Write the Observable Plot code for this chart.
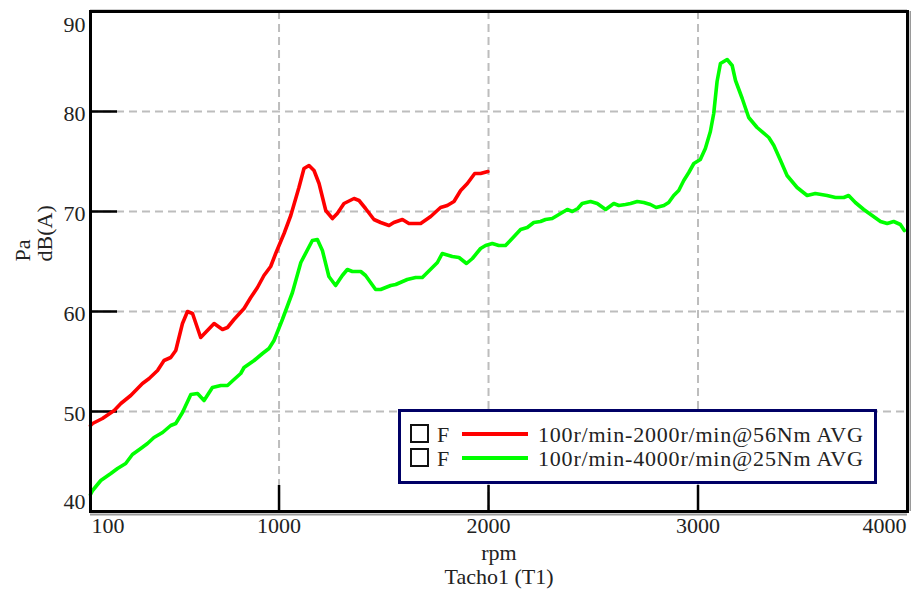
<!DOCTYPE html>
<html>
<head>
<meta charset="utf-8">
<script src="https://cdn.jsdelivr.net/npm/d3@7"></script>
<script src="https://cdn.jsdelivr.net/npm/@observablehq/plot@0.6"></script>
<style>
  body { margin: 0; background: #fff; }
  #wrap { position: relative; width: 911px; height: 591px; }
</style>
</head>
<body>
<div id="wrap"></div>
<script>
// ---- data ----
const rpmRed = [100,110,157,213,245,292,348,380,420,451,483,507,539,563,587,626,658,690,730,754,785,833,865,897,928,960,984,1024,1056,1095,1119,1143,1167,1191,1223,1255,1278,1310,1358,1382,1413,1453,1485,1525,1548,1589,1620,1676,1724,1771,1803,1835,1867,1899,1934,1962,1997];
const dbRed  = [48.6,48.8,49.3,50.1,50.8,51.6,52.8,53.3,54.1,55.1,55.4,56.1,58.8,60.0,59.8,57.4,58.1,58.8,58.2,58.4,59.2,60.3,61.4,62.4,63.6,64.5,65.8,67.8,69.6,72.4,74.3,74.6,74.1,72.8,70.1,69.3,69.8,70.8,71.3,71.1,70.3,69.2,68.9,68.6,68.9,69.2,68.8,68.8,69.5,70.4,70.6,71.0,72.1,72.8,73.8,73.8,74.0];

const rpmGreen = [100,110,149,197,229,268,300,340,372,403,444,483,507,539,579,611,642,682,722,754,785,817,833,881,921,952,976,1016,1064,1104,1159,1183,1207,1238,1270,1302,1326,1350,1390,1413,1437,1461,1485,1533,1557,1612,1652,1684,1732,1756,1779,1827,1859,1895,1923,1962,1986,2018,2049,2081,2113,2153,2185,2216,2248,2272,2304,2344,2376,2400,2426,2447,2487,2519,2559,2598,2622,2654,2678,2710,2741,2773,2800,2837,2860,2884,2908,2932,2956,2980,3011,3035,3059,3075,3091,3107,3139,3163,3179,3211,3242,3282,3338,3362,3394,3425,3473,3521,3560,3616,3656,3696,3719,3751,3791,3831,3871,3903,3934,3966,3985];
const dbGreen  = [41.7,42.1,43.1,43.8,44.3,44.8,45.7,46.3,46.8,47.4,47.9,48.6,48.8,49.9,51.7,51.8,51.1,52.4,52.6,52.6,53.2,53.8,54.4,55.1,55.8,56.3,57.1,59.2,61.9,64.9,67.1,67.2,66.1,63.5,62.6,63.6,64.2,64.0,64.0,63.6,62.9,62.2,62.2,62.6,62.7,63.2,63.4,63.4,64.4,64.9,65.8,65.5,65.4,64.8,65.3,66.3,66.6,66.8,66.6,66.6,67.3,68.2,68.4,68.9,69.0,69.2,69.3,69.8,70.2,70.0,70.3,70.8,71.0,70.8,70.2,70.8,70.6,70.7,70.8,71.0,70.9,70.7,70.4,70.6,70.9,71.6,72.1,73.1,73.9,74.8,75.2,76.3,78.0,79.8,83.0,84.8,85.2,84.6,83.1,81.3,79.4,78.4,77.4,76.6,75.1,73.6,72.4,71.6,71.8,71.6,71.4,71.4,71.6,70.9,70.2,69.6,69.0,68.8,69.0,68.7,68.1];

const xTicks = [100, 1000, 2000, 3000, 4000];
const yTicks = [40, 50, 60, 70, 80, 90];
const seriesNames = ["100r/min-2000r/min@56Nm AVG", "100r/min-4000r/min@25Nm AVG"];
const seriesColors = ["#ff0000", "#00ff00"];
const xLabelLines = ["rpm", "Tacho1 (T1)"];
const yLabelLines = ["Pa", "dB(A)"];

// ---- build ----
const red = rpmRed.map((x, i) => ({rpm: x, db: dbRed[i]}));
const green = rpmGreen.map((x, i) => ({rpm: x, db: dbGreen[i]}));

const xMin = xTicks[0], xMax = xTicks[xTicks.length - 1];
const yMin = yTicks[0], yMax = yTicks[yTicks.length - 1];
const xInner = xTicks.slice(1, -1);
const yInner = yTicks.slice(1, -1);

const FONT = "'Liberation Serif', 'DejaVu Serif', serif";
const TXT = "#222";
const FS = 22;

const chart = Plot.plot({
  width: 911,
  height: 591,
  marginLeft: 90,
  marginRight: 4,
  marginTop: 11,
  marginBottom: 80,
  x: {domain: [xMin, xMax], axis: null},
  y: {domain: [yMin, yMax], axis: null},
  style: {fontFamily: FONT, background: "white", overflow: "visible"},
  marks: [
    // dashed grid
    Plot.ruleY(yInner, {stroke: "#bdbdbd", strokeWidth: 2, strokeDasharray: "8,5"}),
    Plot.ruleX(xInner, {stroke: "#bdbdbd", strokeWidth: 2, strokeDasharray: "8,5"}),
    // inner major ticks
    Plot.tickY(yInner, {stroke: "#000", strokeWidth: 2.5, insetRight: 790}),
    Plot.tickX(xInner, {stroke: "#000", strokeWidth: 2.5, insetTop: 474}),
    // series
    Plot.line(green, {x: "rpm", y: "db", stroke: seriesColors[1], strokeWidth: 3.6, strokeLinejoin: "round"}),
    Plot.line(red, {x: "rpm", y: "db", stroke: seriesColors[0], strokeWidth: 3.6, strokeLinejoin: "round"}),
    // frame with shadow
    Plot.ruleX([xMax], {dx: 3, stroke: "#9a9a9a", strokeWidth: 2}),
    Plot.ruleY([yMin], {dy: 3, stroke: "#9a9a9a", strokeWidth: 2}),
    Plot.ruleY([yMax], {dy: -2, stroke: "#cfcfcf", strokeWidth: 1}),
    Plot.frame({stroke: "#000", strokeWidth: 3}),
    // y tick labels
    Plot.text(yInner, {y: d => d, text: d => String(d), frameAnchor: "left", textAnchor: "end", dx: -5, dy: 2, fontSize: FS, fill: TXT}),
    Plot.text([yMax], {y: d => d, text: d => String(d), frameAnchor: "left", textAnchor: "end", dx: -5, dy: 13, fontSize: FS, fill: TXT}),
    Plot.text([yMin], {y: d => d, text: d => String(d), frameAnchor: "left", textAnchor: "end", dx: -5, dy: -10, fontSize: FS, fill: TXT}),
    // x tick labels
    Plot.text(xInner, {x: d => d, text: d => String(d), frameAnchor: "bottom", dy: 21, fontSize: FS, fill: TXT}),
    Plot.text([xMin], {x: d => d, text: d => String(d), frameAnchor: "bottom", textAnchor: "start", dx: 1, dy: 21, fontSize: FS, fill: TXT}),
    Plot.text([xMax], {x: d => d, text: d => String(d), frameAnchor: "bottom", textAnchor: "end", dx: -1, dy: 21, fontSize: FS, fill: TXT}),
    // axis titles
    Plot.text([xLabelLines[0]], {text: d => d, frameAnchor: "bottom", dy: 48, fontSize: FS, fill: TXT}),
    Plot.text([xLabelLines[1]], {text: d => d, frameAnchor: "bottom", dy: 72, fontSize: FS, fill: TXT}),
    Plot.text([yLabelLines[0]], {text: d => d, frameAnchor: "left", rotate: -90, dx: -68, fontSize: FS, fill: TXT}),
    Plot.text([yLabelLines[1]], {text: d => d, frameAnchor: "left", rotate: -90, dx: -46, fontSize: FS, fill: TXT})
  ]
});

// ---- legend box (inside plot area) ----
const svg = d3.select(chart);
const lg = svg.append("g")
  .attr("font-family", FONT).attr("font-size", FS).attr("fill", TXT)
  .attr("text-anchor", "start");
lg.append("rect").attr("x", 399.5).attr("y", 410.5).attr("width", 476).attr("height", 72)
  .attr("fill", "white").attr("stroke", "#000066").attr("stroke-width", 3);
seriesNames.forEach((name, i) => {
  const cy = 434 + 24 * i;
  lg.append("rect").attr("x", 411).attr("y", cy - 9).attr("width", 17).attr("height", 17)
    .attr("fill", "white").attr("stroke", "#111").attr("stroke-width", 2);
  lg.append("text").attr("x", 437).attr("y", cy).attr("dy", "0.35em").text("F");
  lg.append("line").attr("x1", 462).attr("x2", 528).attr("y1", cy).attr("y2", cy)
    .attr("stroke", seriesColors[i]).attr("stroke-width", 4);
  lg.append("text").attr("x", 538).attr("y", cy).attr("dy", "0.35em")
    .attr("letter-spacing", "0.8px").text(name);
});

document.getElementById("wrap").appendChild(chart);
</script>
</body>
</html>
